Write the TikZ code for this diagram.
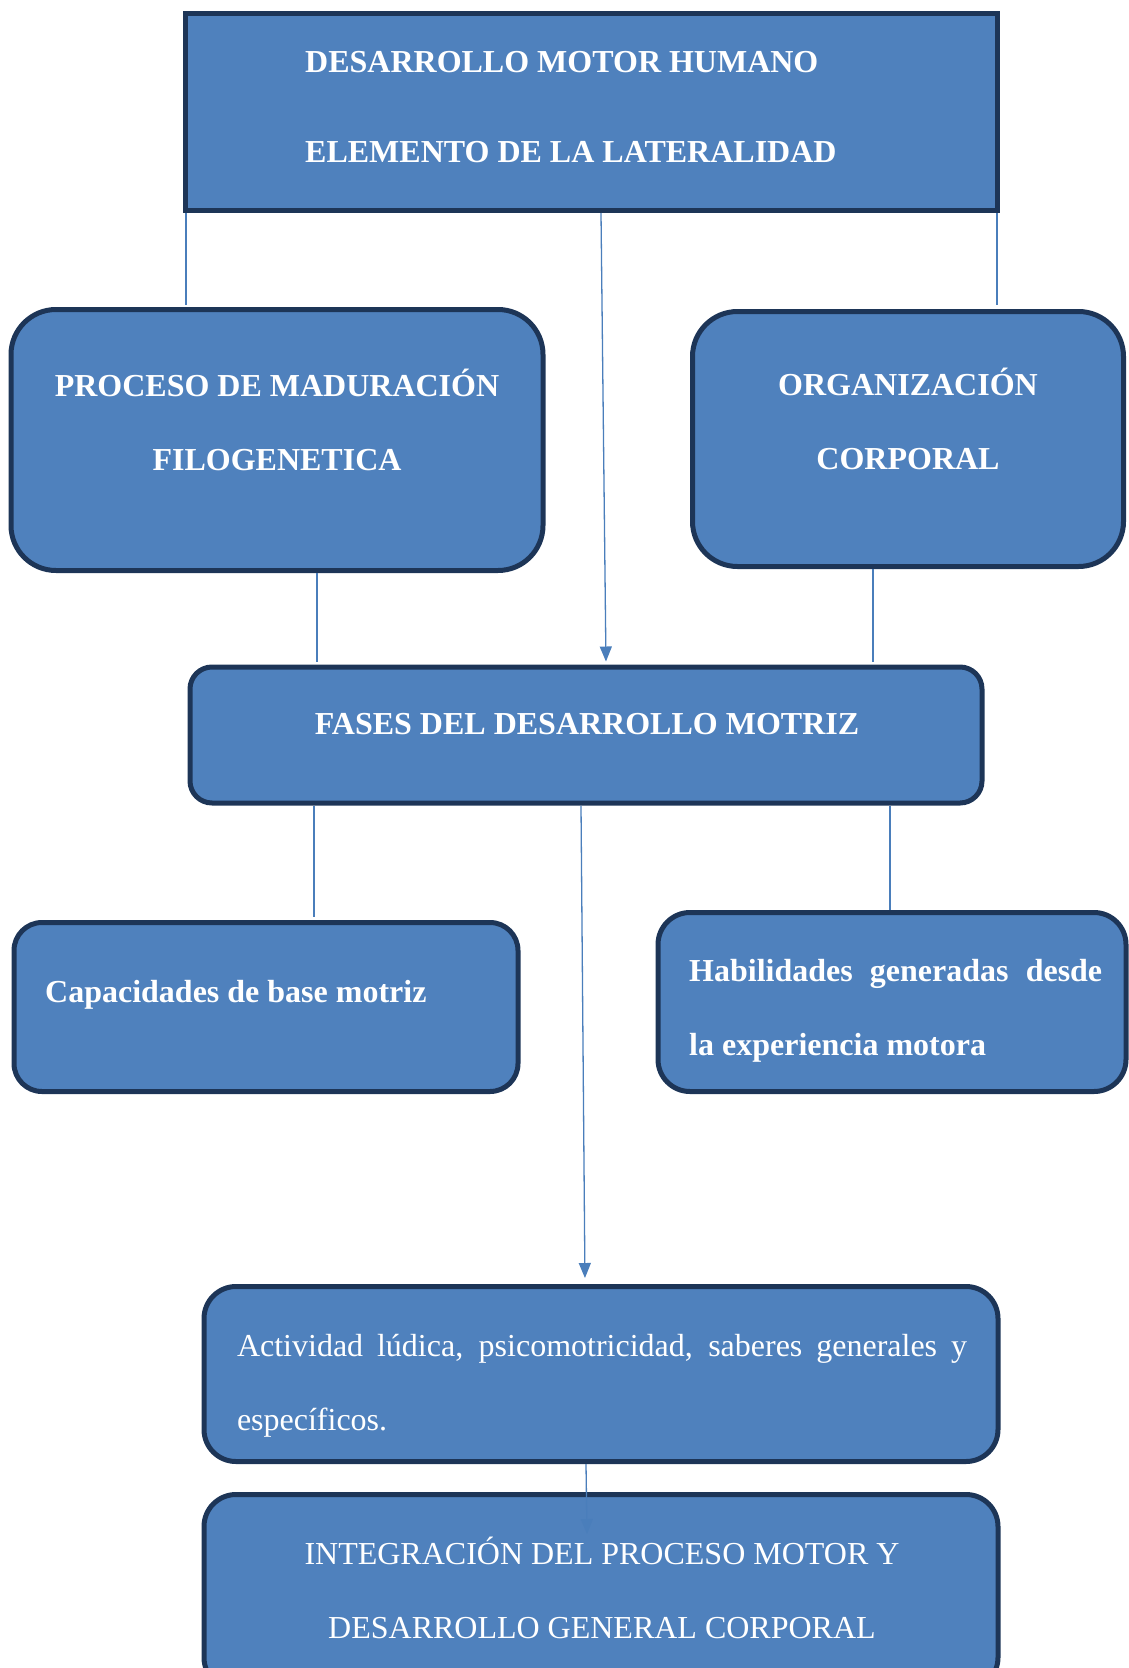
\documentclass[tikz,border=0pt]{standalone}
\usepackage{fontspec}
\setmainfont{Liberation Serif}
\usetikzlibrary{arrows.meta,positioning,calc}
\definecolor{boxfill}{HTML}{4F81BD}
\definecolor{boxline}{HTML}{1D3557}
\definecolor{linkblue}{HTML}{4A7EBB}

\begin{document}
\begin{tikzpicture}[x=1pt,y=-1pt,
  box/.style={draw=boxline,fill=boxfill,line width=5pt},
  rbox/.style={box,rounded corners=#1},
  txt/.style={text=white,inner sep=0pt,font=\fontsize{32}{74}\selectfont\bfseries},
  rtxt/.style={txt,font=\fontsize{32}{74}\selectfont},
  link/.style={draw=linkblue,line width=1.3pt},
  arr/.style={link,-{Triangle[length=15pt,width=12pt]}}]
\useasboundingbox (0,0) rectangle (1128,1668);

% boxes
\node[box,minimum width=812pt,minimum height=197pt] (top) at (591,112) {};
\node[rbox=45pt,minimum width=532pt,minimum height=261pt] (proc) at (277,440) {};
\node[rbox=45pt,minimum width=431pt,minimum height=255pt] (org) at (908,439) {};
\node[rbox=22pt,minimum width=792pt,minimum height=136pt] (fases) at (586,735) {};
\node[rbox=28pt,minimum width=504pt,minimum height=169pt] (capac) at (266,1007) {};
\node[rbox=32pt,minimum width=468pt,minimum height=179pt] (habil) at (892,1002) {};
\node[rbox=32pt,minimum width=794pt,minimum height=175pt] (activ) at (601,1374) {};
\node[rbox=32pt,minimum width=794pt,minimum height=195pt] (integ) at (601,1592) {};

% texts
\node[txt,align=left,anchor=west,font=\fontsize{32}{90}\selectfont\bfseries] (top-t) at (305,107)
  {DESARROLLO MOTOR HUMANO\\ELEMENTO DE LA LATERALIDAD};
\node[txt,align=center] (proc-t) at (277,420) {PROCESO DE MADURACIÓN\\FILOGENETICA};
\node[txt,align=center] (org-t) at (908,419) {ORGANIZACIÓN\\CORPORAL};
\node[txt,anchor=base] (fases-t) at (587,734) {FASES DEL DESARROLLO MOTRIZ};
\node[txt,anchor=base west] (capac-t) at (45,1002) {Capacidades de base motriz};
\node[txt,text width=413pt,align=justify,anchor=west] (habil-t) at (689,1011)
  {Habilidades generadas desde\linebreak la experiencia motora};
\node[rtxt,text width=730pt,align=justify] (activ-t) at (602,1386)
  {Actividad lúdica, psicomotricidad, saberes generales y\linebreak específicos.};
\node[rtxt,align=center] (integ-t) at (602,1588)
  {INTEGRACIÓN DEL PROCESO MOTOR Y\\DESARROLLO GENERAL CORPORAL};

% connectors
\coordinate (l1) at (186,305);
\coordinate (l2) at (997,305);
\coordinate (l3) at (317,662);
\coordinate (l4) at (873,662);
\coordinate (l5) at (314,917);
\draw[link] (l1 |- top.south) -- (l1);
\draw[link] (l2 |- top.south) -- (l2);
\draw[arr,shorten >=3pt] ([xshift=10pt]top.south) -- ([xshift=20pt]fases.north);
\draw[link] (l3 |- proc.south) -- (l3);
\draw[link] (l4 |- org.south) -- (l4);
\draw[link] (l5 |- fases.south) -- (l5);
\draw[arr,shorten >=6pt] ([xshift=-5pt]fases.south) -- ([xshift=-16pt]activ.north);
\draw[link] ([xshift=304pt]fases.south) -- ([xshift=-2pt]habil.north);
\draw[arr] ([xshift=-15pt]activ.south) -- ([xshift=-14pt,yshift=-42pt]integ.north);
\end{tikzpicture}
\end{document}
